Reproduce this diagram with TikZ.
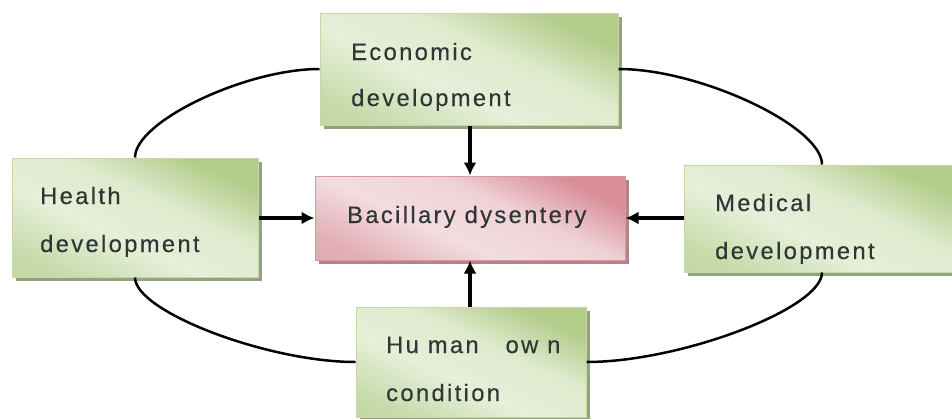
\documentclass[tikz,border=0pt]{standalone}
\usepackage{fontspec}
\setmainfont{Liberation Sans}[LetterSpace=10,FakeBold=0.4]
\usetikzlibrary{shadows,arrows.meta}
\definecolor{gdark}{HTML}{B2CC8A}
\definecolor{glight}{HTML}{E6EFD9}
\definecolor{gedge}{HTML}{C4D9A6}
\definecolor{gshadow}{HTML}{93A382}
\definecolor{pdark}{HTML}{D88F99}
\definecolor{plight}{HTML}{F3DDE1}
\definecolor{pedge}{HTML}{DA97A0}
\definecolor{pshadow}{HTML}{B3848B}
\definecolor{txt}{HTML}{2F3636}
\pgfdeclareverticalshading{greensh}{100bp}{color(0bp)=(gdark!75!glight); color(24bp)=(gdark!60!glight); color(42bp)=(glight); color(58bp)=(glight!85!gdark); color(74bp)=(gdark); color(100bp)=(gdark)}
\pgfdeclareverticalshading{pinksh}{100bp}{color(0bp)=(pdark!75!plight); color(24bp)=(pdark!60!plight); color(42bp)=(plight); color(58bp)=(plight!85!pdark); color(74bp)=(pdark); color(100bp)=(pdark)}
\begin{document}
\begin{tikzpicture}[x=1pt,y=-1pt,
  gbox/.style={draw=gedge, line width=1pt, inner sep=0pt,
    shading=greensh, shading angle=-25,
    general shadow={fill=gshadow, shadow xshift=4pt, shadow yshift=-4pt}},
  pbox/.style={draw=pedge, line width=1pt, inner sep=0pt,
    shading=pinksh, shading angle=-25,
    general shadow={fill=pshadow, shadow xshift=4pt, shadow yshift=-4pt}},
  lbl/.style={anchor=base west, inner sep=0pt, text=txt, font=\fontsize{23.7}{28}\selectfont},
  ring/.style={line width=2.5pt},
  arr/.style={line width=3.5pt, -{Latex[length=13pt,width=13pt]}}
]
\fill[white] (0,0) rectangle (952,418);
\useasboundingbox (0,0) rectangle (952,418);

% boxes
\node[gbox, minimum width=298pt, minimum height=112pt] (econ) at (469,69) {};
\node[gbox, minimum width=246pt, minimum height=119pt] (health) at (135,217.5) {};
\node[gbox, minimum width=276pt, minimum height=107pt] (medical) at (822,218.5) {};
\node[gbox, minimum width=230pt, minimum height=110pt] (human) at (471,362) {};
\node[pbox, minimum width=310pt, minimum height=84pt] (center) at (470,218) {};

% ring connectors
\draw[ring] (health.north) .. controls +(0,-36) and +(-74,0) .. (econ.west);
\draw[ring] (econ.east) .. controls +(82,0) and +(0,-38) .. (medical.north);
\draw[ring] (medical.south) .. controls +(0,36) and +(94,0) .. (human.east);
\draw[ring] (health.south) .. controls +(0,34) and +(-88,0) .. (human.west);

% arrows
\draw[arr] (econ.south -| center.north) -- (center.north);
\draw[arr] (human.north -| center.south) -- (center.south);
\draw[arr] (health.east |- center.west) -- (center.west);
\draw[arr] (medical.west |- center.east) -- (center.east);

% texts
\node[lbl] (econ1) at (351,60) {Economic};
\node[lbl] (econ2) at (351,106) {development};
\node[lbl] (health1) at (40,204) {Health};
\node[lbl] (health2) at (40,252) {development};
\node[lbl] (center1) at (347,223) {Bacillary dysentery};
\node[lbl] (medical1) at (715,211) {Medical};
\node[lbl] (medical2) at (715,259) {development};
\node[lbl] (human1) at (386,353) {Hu man\hspace{18pt} ow n};
\node[lbl] (human2) at (386,401) {condition};
\end{tikzpicture}
\end{document}
